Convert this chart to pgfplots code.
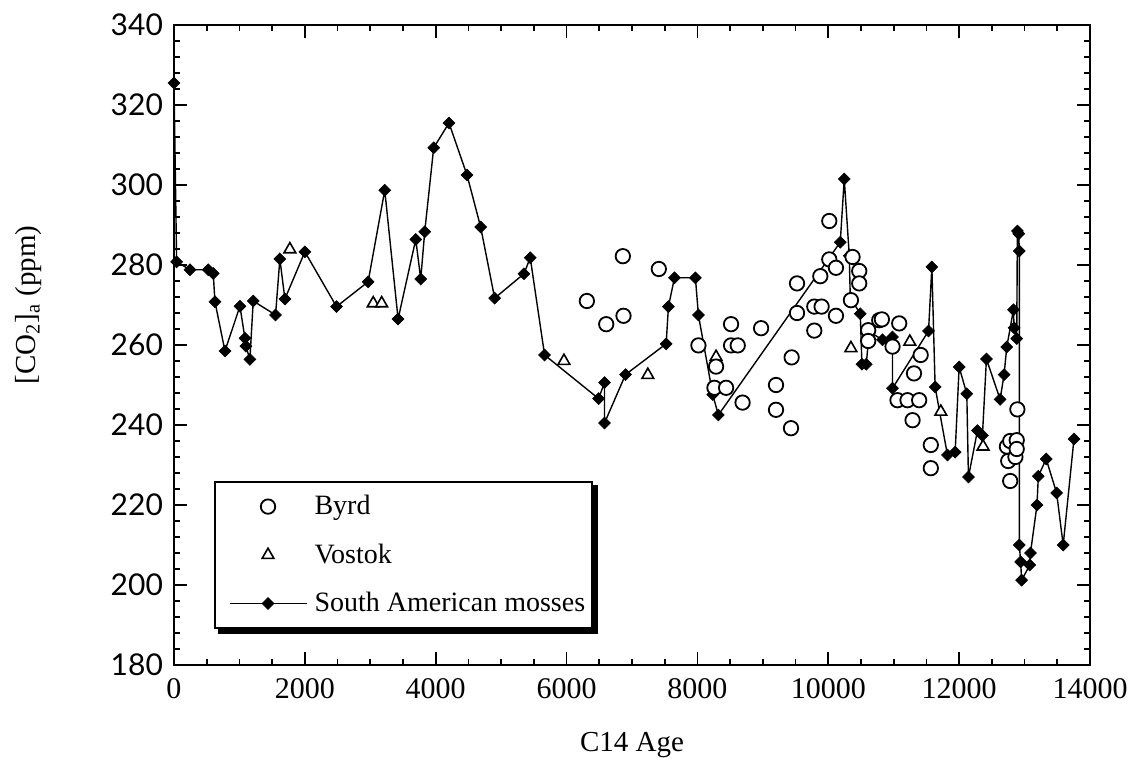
\documentclass[border=0pt]{standalone}
\usepackage{pgfplots}
\pgfplotsset{compat=1.18}
\usepackage{fontspec}
\setmainfont{Liberation Serif}
\newfontfamily\ticksans{Lato}
\usetikzlibrary{backgrounds}

% legend sample for series drawn with marks only: one mark in the middle
\pgfplotsset{marklegend/.style={legend image code/.code={%
  \path (-4.75pt,0pt) (38.5pt,0pt);
  \draw[##1] plot coordinates {(19.25pt,0pt)};}}}

% Atmospheric CO2 reconstructions against radiocarbon age
\pgfplotstableread{
x y
0 325.5
40 280.8
244 278.8
524 278.8
600 277.9
626 270.8
779 258.5
1008 269.7
1084 261.7
1099 259.7
1160 256.4
1211 271
1552 267.5
1618 281.5
1695 271.5
2000 283.3
2484 269.6
2967 275.8
3221 298.7
3425 266.5
3695 286.4
3771 276.5
3832 288.3
3969 309.3
4203 315.5
4478 302.5
4687 289.5
4901 271.7
5348 277.8
5445 281.8
5664 257.5
6489 246.6
6580 250.6
6580 240.5
6901 252.6
7522 260.3
7557 269.6
7649 276.8
7969 276.8
8015 267.5
8234 247.6
8320 242.5
10183 285.7
10244 301.5
10321 282.3
10336 271.8
10489 267.8
10514 255.2
10580 255.2
10626 263.3
10829 261.3
10982 262
10982 249.2
11532 263.5
11583 279.5
11633 249.5
11821 232.5
11939 233.2
12000 254.5
12117 247.8
12142 227
12280 238.6
12356 237.4
12417 256.5
12626 246.4
12687 252.6
12728 259.5
12830 268.8
12840 264.3
12880 261.6
12890 288.5
12910 287.8
12920 283.5
12920 210
12940 205.8
12955 201.2
13080 205
13090 208
13190 220
13210 227.2
13330 231.5
13490 223
13590 210
13755 236.5
}\mosses

\pgfplotstableread{
x y
6310 271
6606 265.2
6860 282.2
6870 267.3
7410 279
8015 259.9
8260 249.3
8285 254.6
8438 249.3
8514 265.2
8514 259.9
8616 259.9
8690 245.6
8973 264.2
9201 250
9201 243.8
9430 239.2
9440 256.9
9522 275.4
9522 268
9786 269.6
9786 263.6
9878 277.2
9898 269.6
10015 291
10015 281.4
10117 279.3
10117 267.3
10346 271.2
10371 282
10473 278.5
10473 275.4
10610 263.7
10610 261
10779 266.2
10819 266.4
10982 259.6
11084 265.4
11058 246.2
11211 246.2
11389 246.2
11310 252.9
11412 257.5
11288 241.2
11567 235
11567 229.2
12730 234.6
12750 231
12780 236
12780 226
12860 232
12880 236.2
12880 234
12890 243.9
}\byrd

\pgfplotstableread{
x y
1771 283.9
3045 270.4
3174 270.4
5960 256
7242 252.5
8285 257
10346 259.2
11246 260.8
11720 243.3
12366 234.6
}\vostok

\begin{document}
\begin{tikzpicture}
\useasboundingbox (-87pt,-50pt) rectangle (480.5pt,332.5pt);
\begin{axis}[
  scale only axis, width=458pt, height=320pt,
  at={(0pt,0pt)}, anchor=south west,
  xmin=0, xmax=14000, ymin=180, ymax=340,
  xtick={0,2000,...,14000}, ytick={180,200,...,340},
  minor x tick num=3, minor y tick num=4,
  tick align=inside, tick pos=both,
  major tick length=6.5pt, minor tick length=3pt,
  axis line style={line width=1pt},
  every tick/.style={black, line width=0.8pt},
  scaled x ticks=false,
  /pgf/number format/1000 sep={},
  /pgf/number format/assume math mode=true,
  xticklabel style={font=\fontsize{15}{18}\selectfont, yshift=-3pt},
  yticklabel style={font=\ticksans\fontsize{15}{18}\selectfont, xshift=-2pt},
  xlabel={C14 Age},
  xlabel style={font=\fontsize{14.5}{17}\selectfont, at={(axis description cs:0.5,-0.125)}, anchor=center},
  ylabel={[CO$_{\mathrm{2}}$]$_{\mathrm{a}}$ (ppm)},
  ylabel style={font=\fontsize{14.5}{17}\selectfont, at={(axis description cs:-0.159,0.5625)}, anchor=center},
  reverse legend,
  legend cell align=left,
  legend image code/.code={\path (-4.75pt,0pt);
    \draw[mark repeat=2,mark phase=2,#1] plot coordinates {(0pt,0pt) (19.25pt,0pt) (38.5pt,0pt)};},
  legend style={name=leg, at={(axis description cs:0.0437,0.056)}, anchor=south west,
    draw=black, line width=1pt, fill=white,
    font=\fontsize{14}{17}\selectfont,
    nodes={inner sep=1.5pt},
    column sep=2pt, row sep=10pt, inner xsep=2pt, inner ysep=5.25pt},
]
\addplot[black, line width=0.7pt, mark=square*, mark size=2.1pt,
  mark options={rotate=45, fill=black, line width=0.3pt}] table[x=x, y=y] {\mosses};
\addlegendentry{South American mosses}
\addplot[only marks, mark=triangle*, mark size=3.4pt,
  mark options={draw=black, fill=white, line width=0.8pt}, marklegend] table[x=x, y=y] {\vostok};
\addlegendentry{Vostok}
\addplot[only marks, mark=*, mark size=3.6pt,
  mark options={draw=black, fill=white, line width=0.9pt}, marklegend] table[x=x, y=y] {\byrd};
\addlegendentry{Byrd}
\end{axis}
\begin{pgfonlayer}{background}
  \fill[black] ([xshift=2.2pt,yshift=-2.2pt]leg.south west) rectangle ([xshift=2.2pt,yshift=-2.2pt]leg.north east);
\end{pgfonlayer}
\end{tikzpicture}
\end{document}
